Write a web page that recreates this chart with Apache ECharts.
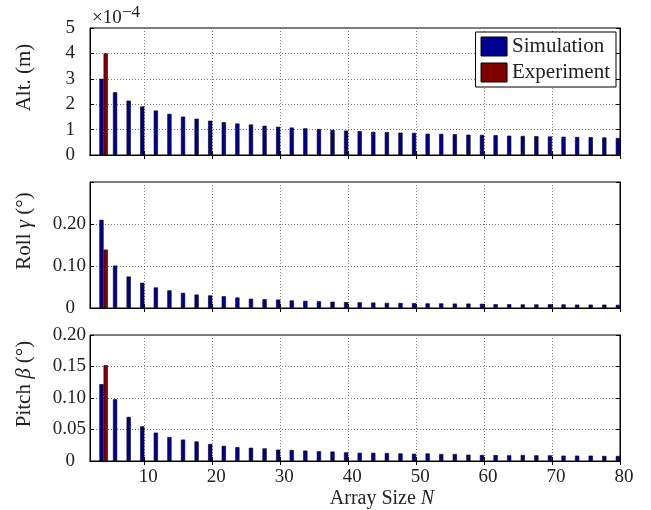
<!DOCTYPE html>
<html>
<head>
<meta charset="utf-8">
<script src="https://cdn.jsdelivr.net/npm/echarts@6/dist/echarts.min.js"></script>
<style>html,body{margin:0;padding:0;background:#fff;}#c{width:651px;height:510px;}</style>
</head>
<body>
<div id="c"></div>
<script>
// Array sizes (group positions)
const N = [4,6,8,10,12,14,16,18,20,22,24,26,28,30,32,34,36,38,40,42,44,46,48,50,52,54,56,58,60,62,64,66,68,70,72,74,76,78,80];
// Altitude error, units of 1e-4 m
const altSim = [3.00,2.47,2.14,1.91,1.75,1.62,1.51,1.43,1.35,1.29,1.24,1.20,1.15,1.11,1.08,1.05,1.02,0.99,0.96,0.94,0.91,0.90,0.88,0.87,0.84,0.83,0.82,0.80,0.79,0.78,0.76,0.75,0.74,0.73,0.72,0.71,0.70,0.69,0.67];
// Roll error (deg)
const rollSim = [0.210,0.101,0.075,0.060,0.049,0.042,0.036,0.032,0.030,0.028,0.025,0.022,0.021,0.020,0.018,0.017,0.016,0.015,0.014,0.0135,0.013,0.012,0.012,0.0115,0.011,0.011,0.0105,0.0105,0.010,0.009,0.009,0.0085,0.0085,0.009,0.0085,0.008,0.008,0.008,0.0075];
// Pitch error (deg)
const pitchSim = [0.122,0.098,0.070,0.055,0.045,0.038,0.034,0.031,0.027,0.024,0.022,0.021,0.020,0.018,0.0175,0.0165,0.0155,0.015,0.0137,0.013,0.013,0.0126,0.012,0.0115,0.012,0.011,0.011,0.010,0.0095,0.0095,0.009,0.0095,0.009,0.009,0.0085,0.0085,0.0085,0.008,0.008];
// Experiment (single array size)
const expN = [4];
const altExp = [4.0];
const rollExp = [0.139];
const pitchExp = [0.152];
// Tick values
const xTicks = [10,20,30,40,50,60,70,80];

const FONT = 'Liberation Serif';
const TXT = '#222';
const SIM_COLOR = '#000090';
const EXP_COLOR = '#800000';

const grids = [
  {left: 90, top: 28, width: 530, height: 127},
  {left: 90, top: 182, width: 530, height: 126},
  {left: 90, top: 335, width: 530, height: 127}
].map(g => Object.assign({show: true, borderColor: '#000', borderWidth: 1, backgroundColor: '#fff'}, g));

const gridLine = {show: true, lineStyle: {color: '#777', type: [1, 2], width: 1}};
const axLine = {show: true, lineStyle: {color: '#000', width: 1}};

const xAxes = [], yAxes = [];
for (let i = 0; i < 3; i++) {
  xAxes.push({
    type: 'value', gridIndex: i, min: 2, max: 80, position: 'bottom',
    axisLine: axLine,
    axisTick: {show: true, inside: true, length: 4, customValues: xTicks, lineStyle: {color: '#000'}},
    axisLabel: {show: i === 2, customValues: xTicks, margin: 7, fontFamily: FONT, fontSize: 19, color: TXT, padding: [0, 0, 0, 8]},
    splitLine: gridLine,
    name: i === 2 ? 'Array Size {i|N}' : '',
    nameLocation: 'middle', nameGap: 28,
    nameTextStyle: {fontFamily: FONT, fontSize: 20, color: TXT, padding: [0, 0, 0, 54],
      rich: {i: {fontFamily: FONT, fontSize: 20, fontStyle: 'italic', color: TXT}}}
  });
  xAxes.push({
    type: 'value', gridIndex: i, min: 2, max: 80, position: 'top',
    axisLine: axLine,
    axisTick: {show: true, inside: true, length: 4, customValues: xTicks, lineStyle: {color: '#000'}},
    axisLabel: {show: false}, splitLine: {show: false}
  });
}

const yCfg = [
  {max: 5, interval: 1, name: 'Alt. (m)', fmt: v => String(v), margin: 15},
  {max: 0.3, interval: 0.1, name: 'Roll {i|γ} (°)', fmt: v => v > 0.25 ? '' : (v === 0 ? '{z|0}' : v.toFixed(2)), margin: 4},
  {max: 0.2, interval: 0.05, name: 'Pitch {i|β} (°)', fmt: v => v === 0 ? '{z|0}' : v.toFixed(2), margin: 4}
];
yCfg.forEach((c, i) => {
  yAxes.push({
    type: 'value', gridIndex: i, min: 0, max: c.max, interval: c.interval, position: 'left',
    axisLine: axLine,
    axisTick: {show: true, inside: true, length: 4, lineStyle: {color: '#000'}},
    axisLabel: {formatter: c.fmt, margin: c.margin, fontFamily: FONT, fontSize: 19, color: TXT,
      rich: {z: {fontFamily: FONT, fontSize: 19, color: TXT, padding: [0, 11, 0, 0]}}},
    splitLine: gridLine,
    name: c.name, nameLocation: 'middle', nameGap: 55,
    nameTextStyle: {fontFamily: FONT, fontSize: 21, color: TXT, padding: [0, 0, 0, 28],
      rich: {i: {fontFamily: FONT, fontSize: 21, fontStyle: 'italic', color: TXT}}}
  });
  yAxes.push({
    type: 'value', gridIndex: i, min: 0, max: c.max, interval: c.interval, position: 'right',
    axisLine: axLine,
    axisTick: {show: true, inside: true, length: 4, lineStyle: {color: '#000'}},
    axisLabel: {show: false}, splitLine: {show: false}
  });
});

function barSeries(name, color, xs, ys, gi) {
  return {
    type: 'bar', name: name, xAxisIndex: 2 * gi, yAxisIndex: 2 * gi,
    data: xs.map((n, k) => [n, ys[k]]),
    barWidth: 4.2, barGap: '0%',
    itemStyle: {color: color, borderColor: '#000', borderWidth: 0.6},
    emphasis: {disabled: true}, animation: false
  };
}

const series = [
  barSeries('Simulation', SIM_COLOR, N, altSim, 0),
  barSeries('Experiment', EXP_COLOR, expN, altExp, 0),
  barSeries('Simulation', SIM_COLOR, N, rollSim, 1),
  barSeries('Experiment', EXP_COLOR, expN, rollExp, 1),
  barSeries('Simulation', SIM_COLOR, N, pitchSim, 2),
  barSeries('Experiment', EXP_COLOR, expN, pitchExp, 2)
];

const chart = echarts.init(document.getElementById('c'), null, {renderer: 'canvas'});
chart.setOption({
  animation: false,
  backgroundColor: '#fff',
  grid: grids,
  xAxis: xAxes,
  yAxis: yAxes,
  series: series,
  legend: {
    data: ['Simulation', 'Experiment'], orient: 'vertical', right: 35, top: 32,
    backgroundColor: '#fff', borderColor: '#000', borderWidth: 1, padding: [4, 6, 4, 5],
    itemWidth: 26, itemHeight: 19, itemGap: 5, icon: 'rect',
    itemStyle: {borderColor: '#000', borderWidth: 1},
    textStyle: {fontFamily: FONT, fontSize: 21, color: TXT, lineHeight: 19},
    selectedMode: false
  },
  graphic: [
    {type: 'text', left: 92, top: 9, style: {text: '×10', font: '19px "Liberation Serif"', fill: TXT}},
    {type: 'text', left: 122, top: 4, style: {text: '−4', font: '17px "Liberation Serif"', fill: TXT}}
  ]
});
</script>
</body>
</html>
